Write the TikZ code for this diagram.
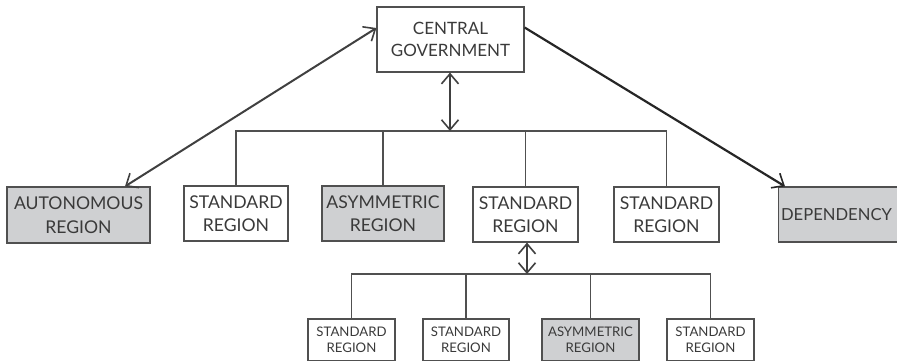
\documentclass[tikz,border=0pt]{standalone}
\usepackage{fontspec}
\setmainfont{Lato}
\usetikzlibrary{arrows.meta,calc}
\definecolor{linec}{HTML}{505050}
\definecolor{textc}{HTML}{3A3A3A}
\definecolor{fillc}{HTML}{CFD0D2}
\tikzset{
  vtip/.tip={Straight Barb[length=10pt,width=17pt,line width=1.6pt]},
  box/.style={draw=linec, line width=1.2pt, text=textc, align=center, inner sep=0pt,
    font=\fontsize{17.6}{23.5}\selectfont},
  small/.style={box, font=\fontsize{13.2}{16}\selectfont},
  shaded/.style={fill=fillc},
  link/.style={draw=linec, line width=1.3pt},
  dbl/.style={draw=linec!80!black, line width=2pt, {vtip}-{vtip}},
}
\begin{document}
\begin{tikzpicture}[x=1pt,y=-1pt]
\useasboundingbox (0,0) rectangle (897,361);
\clip (0,0) rectangle (897,361);
% top
\node[box, minimum width=147pt, minimum height=65pt, font=\fontsize{17}{22}\selectfont] (cg) at (450.5,39.5) {CENTRAL\\GOVERNMENT};
% row 1
\node[box, shaded, minimum width=143pt, minimum height=56pt] (auto) at (78.5,215) {AUTONOMOUS\\REGION};
\node[box, minimum width=104pt, minimum height=55pt] (s1) at (236,213.5) {STANDARD\\REGION};
\node[box, shaded, minimum width=122pt, minimum height=55pt] (asym) at (383,213.5) {ASYMMETRIC\\REGION};
\node[box, minimum width=105pt, minimum height=55pt] (s2) at (525.5,214.5) {STANDARD\\REGION};
\node[box, minimum width=105pt, minimum height=55pt] (s3) at (666.5,214.5) {STANDARD\\REGION};
\node[box, shaded, anchor=west, minimum height=55pt, text width=124pt, align=left, inner xsep=2.5pt, font=\fontsize{16.6}{22}\selectfont] (dep) at (778,214.5) {DEPENDENCY};
% row 2
\node[small, minimum width=87pt, minimum height=42pt] (l1) at (351.5,340) {STANDARD\\REGION};
\node[small, minimum width=86pt, minimum height=42pt] (l2) at (466,340) {STANDARD\\REGION};
\node[small, shaded, minimum width=97pt, minimum height=42pt] (l3) at (590.5,340) {ASYMMETRIC\\REGION};
\node[small, minimum width=87pt, minimum height=42pt] (l4) at (710.5,340) {STANDARD\\REGION};
% bars
\coordinate (bar) at (450,131);
\coordinate (bar2) at (527,274);
\draw[link] (s1.north) |- (s3.north |- bar) -- (s3.north);
\draw[link] (asym.north) -- (asym.north |- bar);
\draw[link] (s2.north) -- (s2.north |- bar);
\draw[dbl] (cg.south -| bar) -- (bar);
\draw[link] (l1.north) |- (l4.north |- bar2) -- (l4.north);
\draw[link] (l2.north) -- (l2.north |- bar2);
\draw[link] (l3.north) -- (l3.north |- bar2);
\draw[dbl] (s2.south -| bar2) -- (bar2);
% diagonals
\draw[dbl] ([yshift=11.5pt]cg.west) -- ([xshift=46.5pt]auto.north);
\draw[draw=black!85, line width=2.2pt, -{vtip}] ([yshift=12pt]cg.east) -- ([xshift=7pt]dep.north west);
\end{tikzpicture}
\end{document}
